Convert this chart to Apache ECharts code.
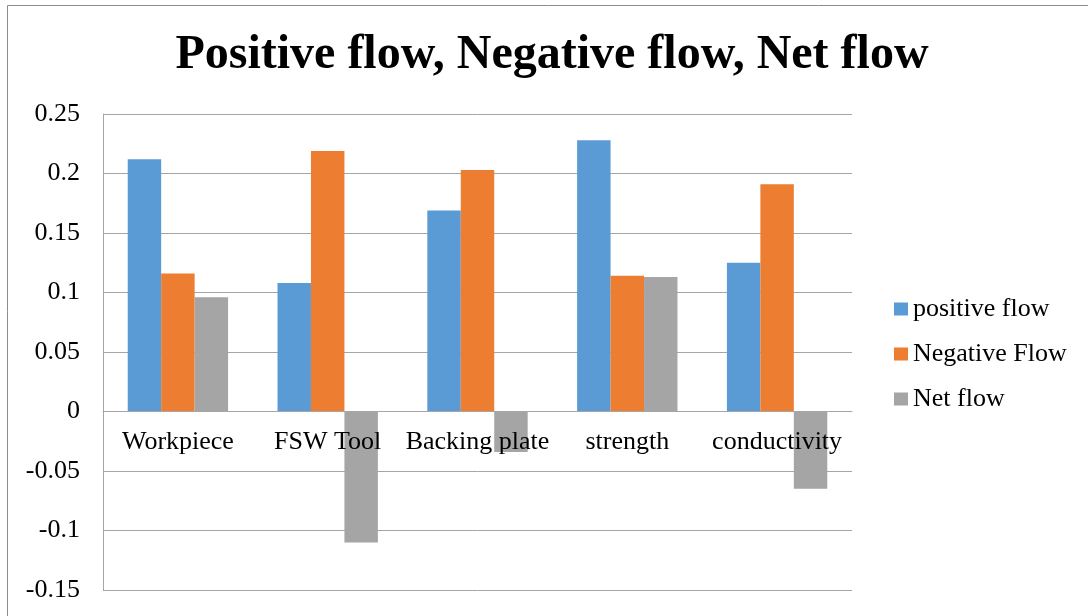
<!DOCTYPE html>
<html>
<head>
<meta charset="utf-8">
<style>
  html, body { margin: 0; padding: 0; background: #ffffff; }
  #chart { width: 1088px; height: 616px; }
</style>
<script src="https://cdn.jsdelivr.net/npm/echarts@6/dist/echarts.min.js"></script>
</head>
<body>
<div id="chart"></div>
<script>
// Flow scores per component
const categories = ['Workpiece', 'FSW Tool', 'Backing plate', 'strength', 'conductivity'];
const positiveFlow = [0.212, 0.108, 0.169, 0.228, 0.125];
const negativeFlow = [0.116, 0.219, 0.203, 0.114, 0.191];
const netFlow = [0.096, -0.110, -0.034, 0.113, -0.065];
const yTicks = { min: -0.15, max: 0.25, step: 0.05 };

const serif = '"Liberation Serif", "Times New Roman", serif';
const chart = echarts.init(document.getElementById('chart'));

// plot box: 103..852 horizontally, 114..590 vertically
const plotTop = 114, plotHeight = 476;
// shift the category axis up from the plot bottom to the zero line
const zeroOffset = -plotHeight * (0 - yTicks.min) / (yTicks.max - yTicks.min);

chart.setOption({
  animation: false,
  backgroundColor: '#ffffff',
  title: {
    text: 'Positive flow, Negative flow, Net flow',
    left: 547,
    textAlign: 'center',
    top: 27,
    textStyle: { fontFamily: serif, fontWeight: 'bold', fontSize: 48, color: '#000000' }
  },
  graphic: [{
    type: 'rect',
    shape: { x: 7.5, y: 5.5, width: 1100, height: 700 },
    style: { fill: 'none', stroke: '#8c8c8c', lineWidth: 1 },
    silent: true
  }],
  legend: {
    orient: 'vertical',
    left: 889,
    top: 291,
    itemWidth: 14,
    itemHeight: 13,
    itemGap: 19,
    icon: 'rect',
    textStyle: { fontFamily: serif, fontSize: 26, lineHeight: 26, color: '#000000' },
    data: ['positive flow', 'Negative Flow', 'Net flow']
  },
  grid: { left: 103, right: 236, top: plotTop, height: plotHeight, outerBoundsMode: 'none', containLabel: false },
  xAxis: {
    type: 'category',
    data: categories,
    position: 'bottom',
    offset: zeroOffset,
    z: 5,
    axisLine: { onZero: false, lineStyle: { color: '#a6a6a6', width: 1 } },
    axisTick: { show: false },
    axisLabel: { fontFamily: serif, fontSize: 26, color: '#000000', margin: 18, interval: 0, hideOverlap: false }
  },
  yAxis: {
    type: 'value',
    min: yTicks.min,
    max: yTicks.max,
    interval: yTicks.step,
    axisLine: { show: true, lineStyle: { color: '#a6a6a6' } },
    axisTick: { show: false },
    splitLine: { lineStyle: { color: '#a6a6a6' } },
    axisLabel: {
      fontFamily: serif, fontSize: 26, color: '#000000', margin: 23,
      formatter: v => String(Math.round(v * 100) / 100)
    }
  },
  series: [
    { name: 'positive flow', type: 'bar', data: positiveFlow, barGap: '0%', barCategoryGap: '33%',
      itemStyle: { color: '#5b9bd5' } },
    { name: 'Negative Flow', type: 'bar', data: negativeFlow, barGap: '0%', barCategoryGap: '33%',
      itemStyle: { color: '#ed7d31' } },
    { name: 'Net flow', type: 'bar', data: netFlow, barGap: '0%', barCategoryGap: '33%',
      itemStyle: { color: '#a5a5a5' } }
  ]
});
</script>
</body>
</html>
